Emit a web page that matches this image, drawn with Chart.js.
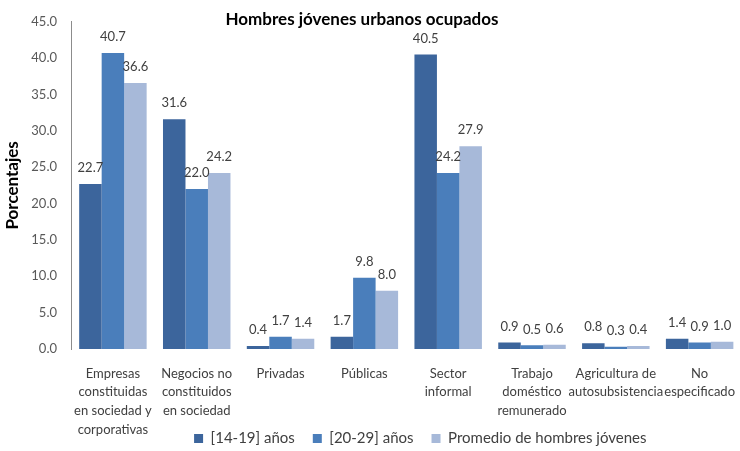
<!DOCTYPE html>
<html>
<head>
<meta charset="utf-8">
<script src="https://cdn.jsdelivr.net/npm/chart.js@4/dist/chart.umd.min.js"></script>
<style>
  html, body { margin: 0; padding: 0; background: #fff; overflow: hidden; }
  #wrap { width: 750px; height: 451px; position: relative; }
</style>
</head>
<body>
<div id="wrap"><canvas id="myChart"></canvas></div>
<script>
const categorias = [
  ['Empresas', 'constituidas', 'en sociedad y', 'corporativas'],
  ['Negocios no', 'constituidos', 'en sociedad'],
  'Privadas',
  'Públicas',
  ['Sector', 'informal'],
  ['Trabajo', 'doméstico', 'remunerado'],
  ['Agricultura de', 'autosubsistencia'],
  ['No', 'especificado'],
];
const edad14a19 = [22.7, 31.6, 0.4, 1.7, 40.5, 0.9, 0.8, 1.4];
const edad20a29 = [40.7, 22.0, 1.7, 9.8, 24.2, 0.5, 0.3, 0.9];
const promedio = [36.6, 24.2, 1.4, 8.0, 27.9, 0.6, 0.4, 1.0];
const series = ['[14-19] años', '[20-29] años', 'Promedio de hombres jóvenes'];
const colores = ['#3C659C', '#4A7EBB', '#A7B9D9'];

const fuente = 'Lato, "Open Sans", sans-serif';

// values above each bar
const etiquetas = {
  id: 'etiquetas',
  afterDatasetsDraw(chart) {
    const ctx = chart.ctx;
    ctx.save();
    ctx.font = '13px ' + fuente;
    ctx.fillStyle = '#404040';
    ctx.textAlign = 'center';
    ctx.textBaseline = 'middle';
    chart.data.datasets.forEach((ds, i) => {
      chart.getDatasetMeta(i).data.forEach((bar, j) => {
        ctx.fillText(ds.data[j].toFixed(1), bar.x, bar.y - 16);
      });
    });
    ctx.restore();
  },
};

// title sits inside the plot area
const titulo = {
  id: 'titulo',
  afterDraw(chart) {
    const ctx = chart.ctx;
    ctx.save();
    ctx.font = 'bold 17px ' + fuente;
    ctx.fillStyle = '#000';
    ctx.textAlign = 'center';
    ctx.textBaseline = 'middle';
    ctx.fillText('Hombres jóvenes urbanos ocupados', 362, 20);
    ctx.restore();
  },
};

// let the category labels run under the legend, and nudge the legend
const ajustes = {
  id: 'ajustes',
  afterLayout(chart) {
    chart.scales.x.bottom = chart.height;
    const lg = chart.legend;
    lg.left += 14;
    lg.right += 14;
    lg.top += 5;
    lg.bottom += 5;
  },
};

const ctx = document.getElementById('myChart').getContext('2d');
new Chart(ctx, {
  type: 'bar',
  data: {
    labels: categorias,
    datasets: [edad14a19, edad20a29, promedio].map((d, i) => ({
      label: series[i],
      data: d,
      backgroundColor: colores[i],
      borderWidth: 0,
      barPercentage: 1,
      categoryPercentage: 0.805,
    })),
  },
  options: {
    responsive: true,
    maintainAspectRatio: false,
    animation: false,
    layout: { padding: { top: 14, left: 0, right: 0, bottom: 0 } },
    plugins: {
      tooltip: { enabled: false },
      legend: {
        position: 'bottom',
        fullSize: false,
        labels: {
          boxWidth: 9,
          boxHeight: 9,
          padding: 18,
          color: '#404040',
          font: { family: fuente, size: 15 },
        },
      },
    },
    scales: {
      y: {
        min: 0,
        max: 45,
        afterFit: (s) => { s.width = 71; },
        grid: { display: false, drawTicks: false },
        border: { display: true, color: '#8c8c8c' },
        ticks: {
          stepSize: 5,
          padding: 14,
          color: '#595959',
          font: { family: fuente, size: 13 },
          callback: (v) => v.toFixed(1),
        },
        title: {
          display: true,
          text: 'Porcentajes',
          color: '#000',
          font: { family: fuente, size: 17, weight: 'bold' },
          padding: { top: 2, bottom: 4 },
        },
      },
      x: {
        afterFit: (s) => { s.height = 59; },
        grid: { display: false, drawTicks: false },
        border: { display: false },
        ticks: {
          padding: 15,
          maxRotation: 0,
          autoSkip: false,
          color: '#404040',
          font: { family: fuente, size: 13, lineHeight: 1.45 },
        },
      },
    },
  },
  plugins: [etiquetas, titulo, ajustes],
});
</script>
</body>
</html>
